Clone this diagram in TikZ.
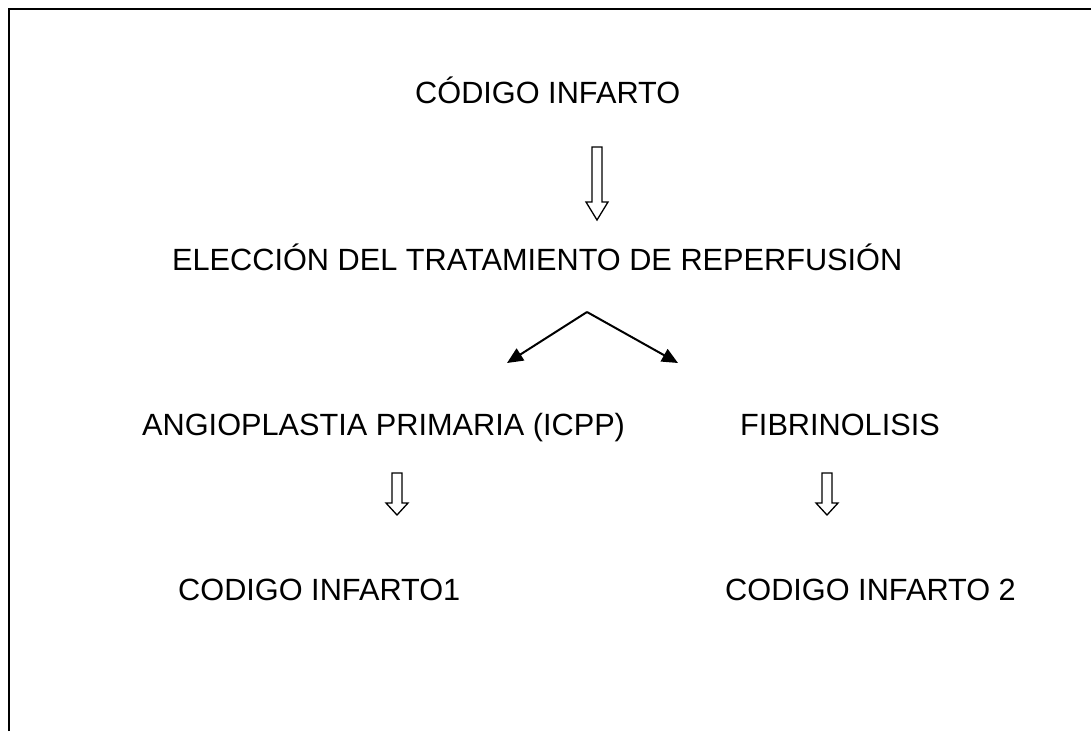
\documentclass[tikz,border=0pt]{standalone}
\usepackage{fontspec}
\setmainfont{Liberation Sans}
\usetikzlibrary{arrows.meta}

% hollow down arrow: centre x, top y, head base y, tip y
\newcommand{\hollowdown}[4]{%
  \draw[hollow] (#1-5,#2) -- (#1+5,#2) -- (#1+5,#3) -- (#1+11,#3) -- (#1,#4)
    -- (#1-11,#3) -- (#1-5,#3) -- cycle;}

\tikzset{
  label/.style={anchor=base west, inner sep=0pt, font=\fontsize{30.7}{36}\selectfont},
  hollow/.style={line width=1.3pt, line join=miter, fill=white},
  branch/.style={-{Triangle[length=16pt,width=14pt]}, line width=2pt}
}

\begin{document}
\begin{tikzpicture}[x=1pt, y=-1pt]
  \useasboundingbox (0,0) rectangle (1091,731);
  % frame
  \draw[line width=2.2pt] (9,731) -- (9,9) -- (1091,9);

  % titles
  \node[label] (codigo) at (415,103) {CÓDIGO INFARTO};
  \node[label] (eleccion) at (172,270) {ELECCIÓN DEL TRATAMIENTO DE REPERFUSIÓN};

  % branches
  \node[label] (icpp) at (142,435) {ANGIOPLASTIA PRIMARIA (ICPP)};
  \node[label] (fibri) at (740,435) {FIBRINOLISIS};
  \node[label] (ci1) at (178,600) {CODIGO INFARTO1};
  \node[label] (ci2) at (725,600) {CODIGO INFARTO 2};

  % hollow arrows
  \hollowdown{597}{147}{202}{220}
  \hollowdown{397}{473}{503}{515}
  \hollowdown{827}{473}{503}{515}

  % split arrows
  \coordinate (apex) at (587,312);
  \coordinate (leftend) at (507,363);
  \coordinate (rightend) at (678,363);
  \draw[branch] (apex) -- (leftend);
  \draw[branch] (apex) -- (rightend);
\end{tikzpicture}
\end{document}
